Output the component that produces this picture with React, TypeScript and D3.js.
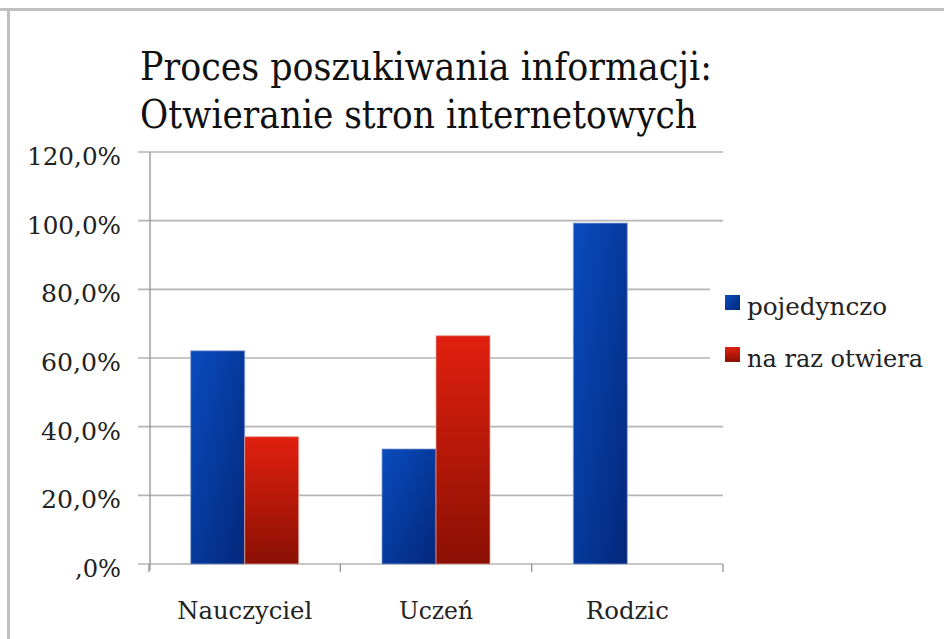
import React from "react";
import * as d3 from "d3";

const categories = ["Nauczyciel", "Uczeń", "Rodzic"];
const seriesNames = ["pojedynczo", "na raz otwiera"];
const pojedynczo = [0.621, 0.335, 0.993];
const naRazOtwiera = [0.371, 0.665, 0];
const yTicks = [0, 0.2, 0.4, 0.6, 0.8, 1.0, 1.2];
const titleLines = ["Proces poszukiwania informacji:", "Otwieranie stron internetowych"];

const W = 944;
const H = 639;
const FONT = "DejaVu Serif";

export default function App() {
  const left = 149;
  const right = 723;
  const top = 152;
  const bottom = 564;

  const x0 = d3.scaleBand<string>().domain(categories).range([left, right]).paddingInner(0.4355).paddingOuter(0.4355 / 2);
  const x1 = d3.scaleBand<string>().domain(seriesNames).range([0, x0.bandwidth()]);
  const y = d3.scaleLinear().domain([0, 1.2]).range([bottom, top]);
  const fmt = (v: number) => (v === 0 ? ",0%" : (v * 100).toFixed(1).replace(".", ",") + "%");

  const seriesValues = [pojedynczo, naRazOtwiera];
  const fills = ["url(#gBlue)", "url(#gRed)"];
  const boundaries = [left, ...categories.map((c) => (x0(c) as number) + x0.bandwidth() + (x0.step() - x0.bandwidth()) / 2)];
  const catWidths: Record<string, number> = { "Nauczyciel": 135, "Uczeń": 74, "Rodzic": 83 };
  const legWidths = [140, 176];

  return (
    <svg width={W} height={H} style={{ position: "absolute", left: 0, top: 0, background: "#fff", fontFamily: FONT }}>
      <defs>
        <linearGradient id="gBlue" x1="0" y1="0" x2="1" y2="1">
          <stop offset="0" stopColor="#0a4cbf" />
          <stop offset="1" stopColor="#03277a" />
        </linearGradient>
        <linearGradient id="gRed" x1="0" y1="0" x2="0" y2="1">
          <stop offset="0" stopColor="#e1200e" />
          <stop offset="1" stopColor="#8a1004" />
        </linearGradient>
      </defs>
      {/* frame */}
      <rect x={0} y={8} width={W} height={3} fill="#c0c0c0" />
      <rect x={7} y={8} width={3} height={H - 8} fill="#c0c0c0" />

      {/* title */}
      {titleLines.map((t, i) => (
        <text key={i} x={140} y={80 + i * 48} fontFamily={FONT} fontSize={40} fill="#111"
          textLength={i === 0 ? 572 : 557} lengthAdjust="spacingAndGlyphs">
          {t}
        </text>
      ))}

      {/* gridlines */}
      {yTicks.map((v) => (
        <g key={v}>
          <line x1={138} x2={right} y1={y(v)} y2={y(v)} stroke="#b5b5b5" strokeWidth={1.6} />
          <text x={121} y={y(v) + 13} textAnchor="end" fontFamily={FONT} fontSize={25} fill="#222"
            textLength={v === 0 ? 46 : v >= 1 ? 94 : 80} lengthAdjust="spacingAndGlyphs">
            {fmt(v)}
          </text>
        </g>
      ))}
      {/* y axis */}
      <line x1={150} x2={150} y1={top} y2={bottom + 6} stroke="#999" strokeWidth={1.4} />
      {/* x ticks */}
      {boundaries.map((b, i) => (
        <line key={i} x1={b} x2={b} y1={bottom} y2={bottom + 8} stroke="#999" strokeWidth={1.4} />
      ))}

      {/* bars */}
      {categories.map((c, ci) => (
        <g key={c} transform={`translate(${x0(c)},0)`}>
          {seriesNames.map((s, si) => {
            const v = seriesValues[si][ci];
            if (v <= 0) return null;
            const bx = x1(s) as number;
            return (
              <rect key={s} x={bx} y={y(v)} width={x1.bandwidth()} height={bottom - y(v)}
                fill={fills[si]} stroke={si === 0 ? "rgba(140,160,210,0.6)" : "rgba(230,170,160,0.6)"} strokeWidth={1.2} />
            );
          })}
          <text x={x0.bandwidth() / 2} y={619} textAnchor="middle" fontFamily={FONT} fontSize={24} fill="#222"
            textLength={catWidths[c]} lengthAdjust="spacingAndGlyphs">
            {c}
          </text>
        </g>
      ))}

      {/* legend */}
      <rect x={710} y={280} width={234} height={95} fill="#fff" />
      {seriesNames.map((s, i) => (
        <g key={s} transform={`translate(725,${295 + i * 52})`}>
          <rect x={0} y={0} width={15} height={15} fill={fills[i]} />
          <text x={22} y={20} fontFamily={FONT} fontSize={24} fill="#222"
            textLength={legWidths[i]} lengthAdjust="spacingAndGlyphs">
            {s}
          </text>
        </g>
      ))}
    </svg>
  );
}
